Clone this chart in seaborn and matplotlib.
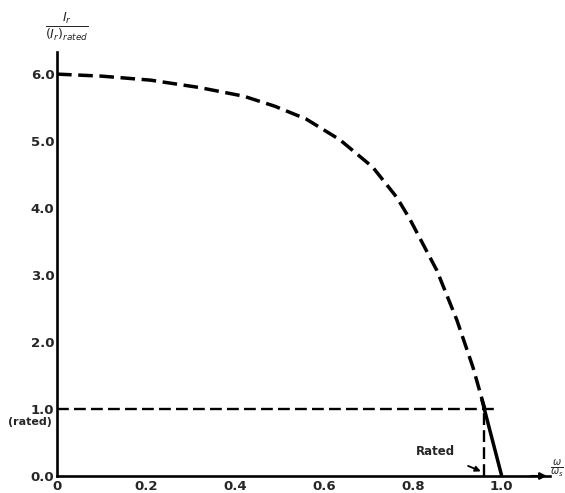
import matplotlib
matplotlib.use("Agg")
import matplotlib.pyplot as plt
import seaborn as sns
import pandas as pd

# Data
speed = [0.0, 0.1, 0.21, 0.32, 0.42, 0.49, 0.56, 0.636, 0.71, 0.764, 0.793,
         0.854, 0.899, 0.935, 0.962]
current = [6.0, 5.97, 5.91, 5.80, 5.67, 5.52, 5.33, 5.02, 4.61, 4.16, 3.84,
           3.07, 2.33, 1.63, 1.0]
rated_speed = 0.96
rated_current = 1.0
solid_speed = [0.955, 1.0]
solid_current = [1.15, 0.0]
xtick_vals = [0.0, 0.2, 0.4, 0.6, 0.8, 1.0]
xtick_labels = ["0", "0.2", "0.4", "0.6", "0.8", "1.0"]
ytick_vals = [0.0, 1.0, 2.0, 3.0, 4.0, 5.0, 6.0]
ytick_labels = ["0.0", "1.0", "2.0", "3.0", "4.0", "5.0", "6.0"]

sns.set_style("white")
plt.rcParams['font.family'] = ['DejaVu Sans']

fig = plt.figure(figsize=(5.65, 4.93), dpi=100)
ax = fig.add_axes([0.101, 0.0345, 0.872, 0.86])

df = pd.DataFrame({"speed": speed, "current": current})
sns.lineplot(data=df, x="speed", y="current", ax=ax, color="black",
             lw=2.5, linestyle=(0, (4.2, 1.9)), sort=False)

# rated current line and rated speed line
ax.plot([0, 0.995], [rated_current, rated_current], color="black", lw=1.7,
        linestyle=(0, (5, 2.2)))
ax.plot([rated_speed, rated_speed], [0, rated_current], color="black", lw=1.7,
        linestyle=(0, (5, 2.2)))
ax.plot(solid_speed, solid_current, color="black", lw=2.5, solid_capstyle="butt")

ax.set_xlim(0, 1.108)
ax.set_ylim(0, 6.33)
for s in ["top", "right"]:
    ax.spines[s].set_visible(False)
for s in ["left", "bottom"]:
    ax.spines[s].set_linewidth(1.9)
    ax.spines[s].set_color("black")

# arrow at end of x-axis
ax.annotate("", xy=(1.108, 0), xytext=(1.06, 0),
            arrowprops=dict(arrowstyle="-|>", color="black", lw=1.5, mutation_scale=10),
            annotation_clip=False)

ax.set_xticks(xtick_vals)
ax.set_xticklabels(xtick_labels, fontsize=9.5, fontweight="bold")
ax.set_yticks(ytick_vals)
ax.set_yticklabels(ytick_labels, fontsize=9.5, fontweight="bold")
ax.tick_params(axis="both", direction="in", length=6, width=1.4, color="black")
ax.tick_params(axis="x", pad=3)
ax.tick_params(axis="y", pad=2)
ax.set_xlabel("")
ax.set_ylabel("")

ax.text(-0.012, 0.8, "(rated)", transform=ax.transData, ha="right", va="center",
        fontsize=8, fontweight="bold")

ax.annotate("Rated", xy=(0.953, 0.07), xytext=(0.85, 0.36),
            fontsize=8.5, fontweight="bold", ha="center", va="center",
            arrowprops=dict(arrowstyle="-|>", color="black", lw=1.3,
                            mutation_scale=8, shrinkA=8, shrinkB=0))

fig.text(0.118, 0.945, r"$\frac{I_r}{(I_r)_{rated}}$", ha="center",
         va="center", fontsize=13)
fig.text(0.985, 0.048, r"$\frac{\omega}{\omega_s}$", ha="center", va="center",
         fontsize=10)

fig.savefig("out.png", dpi=100)
